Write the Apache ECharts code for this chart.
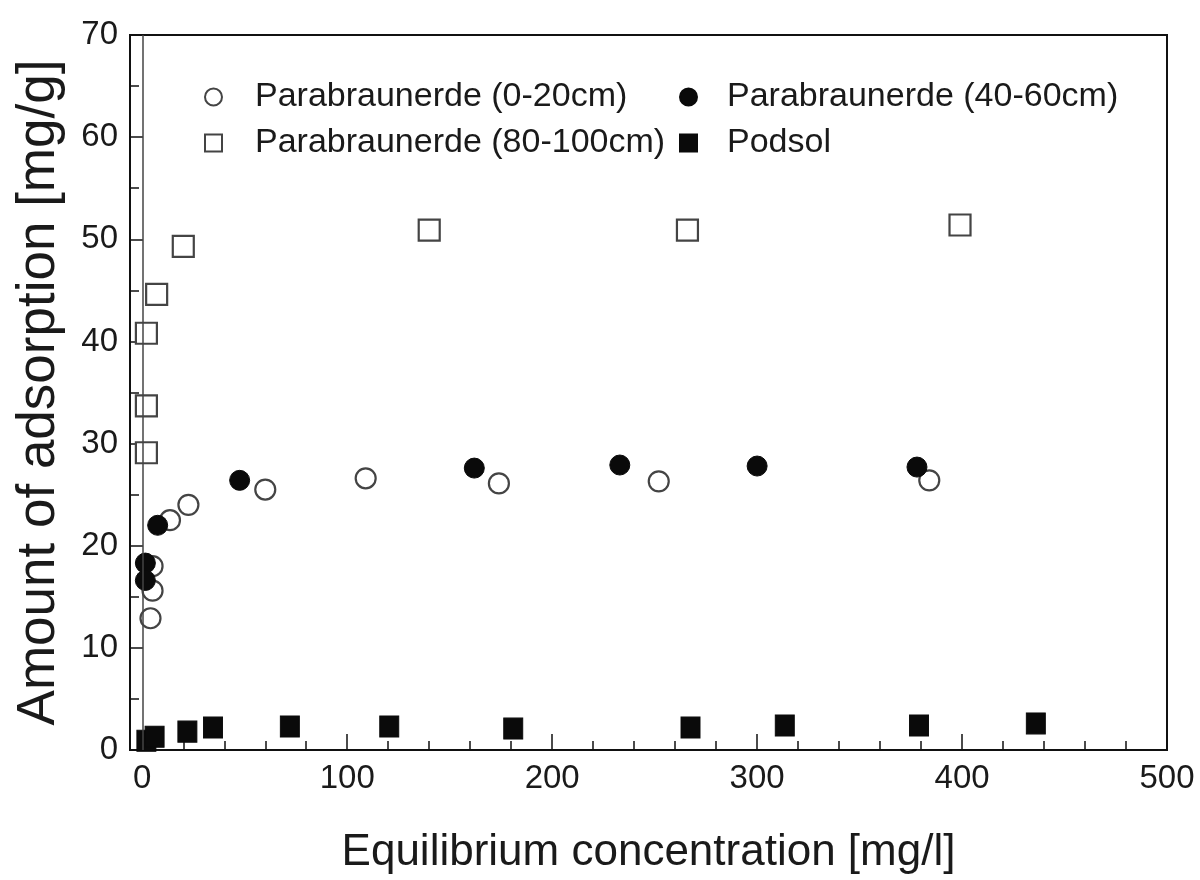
<!DOCTYPE html>
<html>
<head>
<meta charset="utf-8">
<script src="https://cdn.jsdelivr.net/npm/echarts@6/dist/echarts.min.js"></script>
<style>html,body{margin:0;padding:0;background:#fff}#c{width:1200px;height:880px}</style>
</head>
<body>
<div id="c"></div>
<script>
// ---- data ----
const seriesNames = ['Parabraunerde (0-20cm)', 'Parabraunerde (40-60cm)', 'Parabraunerde (80-100cm)', 'Podsol'];
const para0_20 = [[4,12.9],[5,15.6],[5,18.0],[13.5,22.5],[22.5,24.0],[60,25.5],[109,26.6],[174,26.1],[252,26.3],[384,26.4]];
const para40_60 = [[1.5,18.3],[1.5,16.6],[7.5,22.0],[47.5,26.4],[162,27.6],[233,27.9],[300,27.8],[378,27.7]];
const para80_100 = [[2,29.1],[2,33.7],[2,40.8],[7,44.6],[20,49.3],[140,50.9],[266,50.9],[399,51.4]];
const podsol = [[2,0.9],[6,1.3],[22,1.8],[34.5,2.2],[72,2.3],[120.5,2.3],[181,2.1],[267.5,2.2],[313.5,2.4],[379,2.4],[436,2.6]];
const xMajorTicks = [0,100,200,300,400,500];
const xMinorTicks = [20,40,60,80,120,140,160,180,220,240,260,280,320,340,360,380,420,440,460,480];
const xMin = -6, xMax = 500;
const yMin = 0, yMax = 70, yStep = 10;

const FONT = '"Liberation Sans", Arial, Helvetica, sans-serif';
const chart = echarts.init(document.getElementById('c'), null, {renderer: 'canvas'});
const openStyle = {color: '#fff', borderColor: '#444', borderWidth: 2.2, opacity: 1};
const fillStyle = {color: '#0a0a0a', borderColor: '#0a0a0a', borderWidth: 1, opacity: 1};

chart.setOption({
  backgroundColor: '#fff',
  animation: false,
  grid: {left: 130, right: 33, top: 35, bottom: 128, show: true, borderColor: '#111', borderWidth: 2, backgroundColor: 'transparent'},
  legend: [
    {data: [seriesNames[0], seriesNames[2]], orient: 'vertical', left: 199, top: 74, itemWidth: 17, itemHeight: 17, itemGap: 10,
     textStyle: {fontFamily: FONT, fontSize: 34, color: '#1a1a1a', lineHeight: 36, padding: [0,0,0,28]}},
    {data: [seriesNames[1], seriesNames[3]], orient: 'vertical', left: 674, top: 74, itemWidth: 17, itemHeight: 17, itemGap: 10,
     textStyle: {fontFamily: FONT, fontSize: 34, color: '#1a1a1a', lineHeight: 36, padding: [0,0,0,25]}}
  ],
  xAxis: [
    {type: 'value', min: xMin, max: xMax, position: 'bottom',
     name: 'Equilibrium concentration [mg/l]', nameLocation: 'middle', nameGap: 81,
     nameTextStyle: {fontFamily: FONT, fontSize: 44, color: '#1a1a1a'},
     axisLine: {show: true, onZero: false, lineStyle: {color: '#111', width: 2}},
     axisTick: {show: true, inside: true, length: 16, customValues: xMajorTicks, lineStyle: {color: '#111', width: 1.5}},
     axisLabel: {show: true, customValues: xMajorTicks, margin: 12, fontFamily: FONT, fontSize: 33, color: '#1a1a1a'},
     splitLine: {show: false}},
    {type: 'value', min: xMin, max: xMax, position: 'bottom', gridIndex: 0,
     axisLine: {show: false},
     axisTick: {show: true, inside: true, length: 9, customValues: xMinorTicks, lineStyle: {color: '#111', width: 1.5}},
     axisLabel: {show: false},
     splitLine: {show: false}}
  ],
  yAxis: [
    {type: 'value', min: yMin, max: yMax, interval: yStep, position: 'left',
     name: 'Amount of adsorption [mg/g]', nameLocation: 'middle', nameGap: 64,
     nameTextStyle: {fontFamily: FONT, fontSize: 53, color: '#1a1a1a'},
     axisLine: {show: true, onZero: false, lineStyle: {color: '#111', width: 2}},
     axisTick: {show: true, inside: true, length: 13, lineStyle: {color: '#111', width: 1.5}},
     minorTick: {show: true, splitNumber: 2, length: 9, lineStyle: {color: '#111', width: 1.5}},
     axisLabel: {margin: 12, fontFamily: FONT, fontSize: 33, color: '#1a1a1a'},
     splitLine: {show: false}}
  ],
  series: [
    {name: seriesNames[0], type: 'scatter', symbol: 'circle', symbolSize: 20, data: para0_20, itemStyle: openStyle, z: 3,
     markLine: {silent: true, symbol: ['none','none'], label: {show: false}, lineStyle: {color: '#444', width: 1.5, type: 'solid'},
                data: [{xAxis: 0}], animation: false}},
    {name: seriesNames[1], type: 'scatter', symbol: 'circle', symbolSize: 20, data: para40_60, itemStyle: fillStyle, z: 4},
    {name: seriesNames[2], type: 'scatter', symbol: 'rect', symbolSize: 21, data: para80_100, itemStyle: openStyle, z: 3},
    {name: seriesNames[3], type: 'scatter', symbol: 'rect', symbolSize: [19, 21], data: podsol, itemStyle: fillStyle, z: 4}
  ]
});
</script>
</body>
</html>
